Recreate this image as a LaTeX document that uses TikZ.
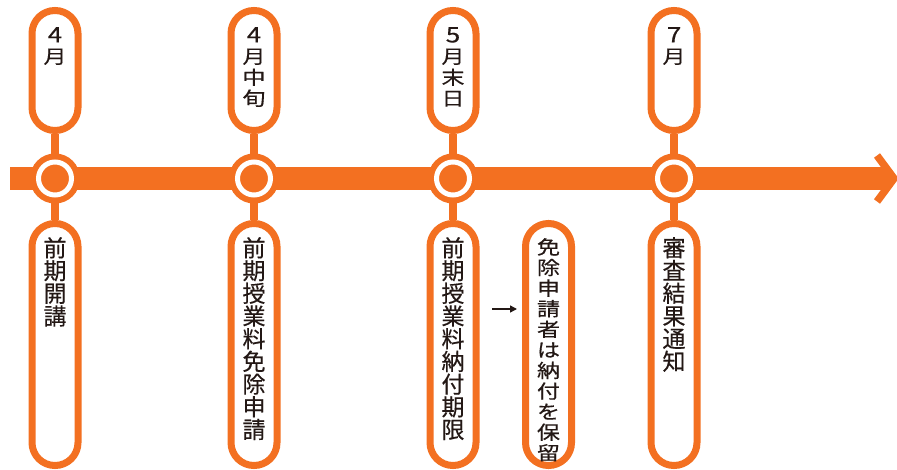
\documentclass[tikz,border=0pt]{standalone}
\usepackage{fontspec}
\setmainfont{Noto Sans CJK JP}[FakeBold=0.4]
\usetikzlibrary{positioning, backgrounds, arrows.meta}
\definecolor{tlorange}{RGB}{243,112,33}
\definecolor{tltext}{RGB}{35,24,21}
% one character per line, squeezed a little in height
\newcommand{\squeezed}[2]{\scalebox{1}[0.82]{\parbox[t]{46pt}{\centering
  \fontsize{23}{#1}\selectfont #2}}}
\newcommand{\digit}[1]{{\fontsize{26}{26}\selectfont #1}}

\begin{document}
\begin{tikzpicture}[
    x = 1pt, y = -1pt,
    pill/.style = {draw = tlorange, line width = 7pt, fill = white,
                   rounded corners = 22.9pt, minimum width = 46pt, inner sep = 0pt},
    toppill/.style = {pill, minimum height = 120pt},
    lowpill/.style = {pill, minimum height = 242pt},
    dot/.style = {circle, fill = tlorange, draw = tlorange, double = white,
                  double distance = 5pt, line width = 6pt,
                  minimum size = 33pt, inner sep = 0pt},
    words/.style = {anchor = north, align = center, inner sep = 0pt, text = tltext,
                    font = \fontsize{23}{22.7}\selectfont},
    stem/.style = {draw = tlorange, line width = 8pt},
    axis/.style = {draw = tlorange, line width = 23pt},
    chevron/.style = {draw = tlorange, line width = 7.5pt, miter limit = 10},
    note/.style = {draw = tltext, line width = 1.5pt,
                   -{Triangle[length = 7pt, width = 7pt]}}
  ]
  \useasboundingbox (0,0) rectangle (897,470);

  % dates above the line
  \node[toppill] (T1) at (55,70.5)  {};
  \node[toppill] (T2) at (254,70.5) {};
  \node[toppill] (T3) at (453,70.5) {};
  \node[toppill] (T4) at (674,70.5) {};

  % points on the line
  \node[dot] (D1) at (55,178.5)  {};
  \node[dot] (D2) at (254,178.5) {};
  \node[dot] (D3) at (453,178.5) {};
  \node[dot] (D4) at (674,178.5) {};

  % events below the line
  \node[lowpill] (B1) at (55,344.5)    {};
  \node[lowpill] (B2) at (254,344.5)   {};
  \node[lowpill] (B3) at (453,344.5)   {};
  \node[lowpill] (S)  at (548.5,344.5) {};
  \node[lowpill] (B4) at (674,344.5)   {};

  \coordinate (start) at (10,178.5);
  \coordinate (tip)   at (894,178.5);

  \begin{scope}[on background layer]
    \draw[axis] (start) -- ([xshift=-4pt]tip);
    \draw[stem] (T1) -- (B1);
    \draw[stem] (T2) -- (B2);
    \draw[stem] (T3) -- (B3);
    \draw[stem] (T4) -- (B4);
  \end{scope}
  \draw[chevron] (tip) ++(-17,-23) -- (tip) -- ++(-17,23);

  % texts, one character per line
  \node[words, below = 20pt of T1.north] {\squeezed{25.6}{\digit{4}\\月}};
  \node[words, below = 20pt of T2.north] {\squeezed{25.6}{\digit{4}\\月\\中\\旬}};
  \node[words, below = 20pt of T3.north] {\squeezed{25.6}{\digit{5}\\月\\末\\日}};
  \node[words, below = 20pt of T4.north] {\squeezed{25.6}{\digit{7}\\月}};
  \node[words, below = 17pt of B1.north] {前\\期\\開\\講};
  \node[words, below = 17pt of B2.north] {前\\期\\授\\業\\料\\免\\除\\申\\請};
  \node[words, below = 17pt of B3.north] {前\\期\\授\\業\\料\\納\\付\\期\\限};
  \node[words, below = 18pt of S.north]
    {\squeezed{25.1}{免\\除\\申\\請\\者\\は\\納\\付\\を\\保\\留}};
  \node[words, below = 17pt of B4.north] {審\\査\\結\\果\\通\\知};

  \draw[note, shorten < = 12.5pt, shorten > = 5pt]
    ([yshift=35.5pt]B3.east) -- ([yshift=35.5pt]S.west);
\end{tikzpicture}
\end{document}
